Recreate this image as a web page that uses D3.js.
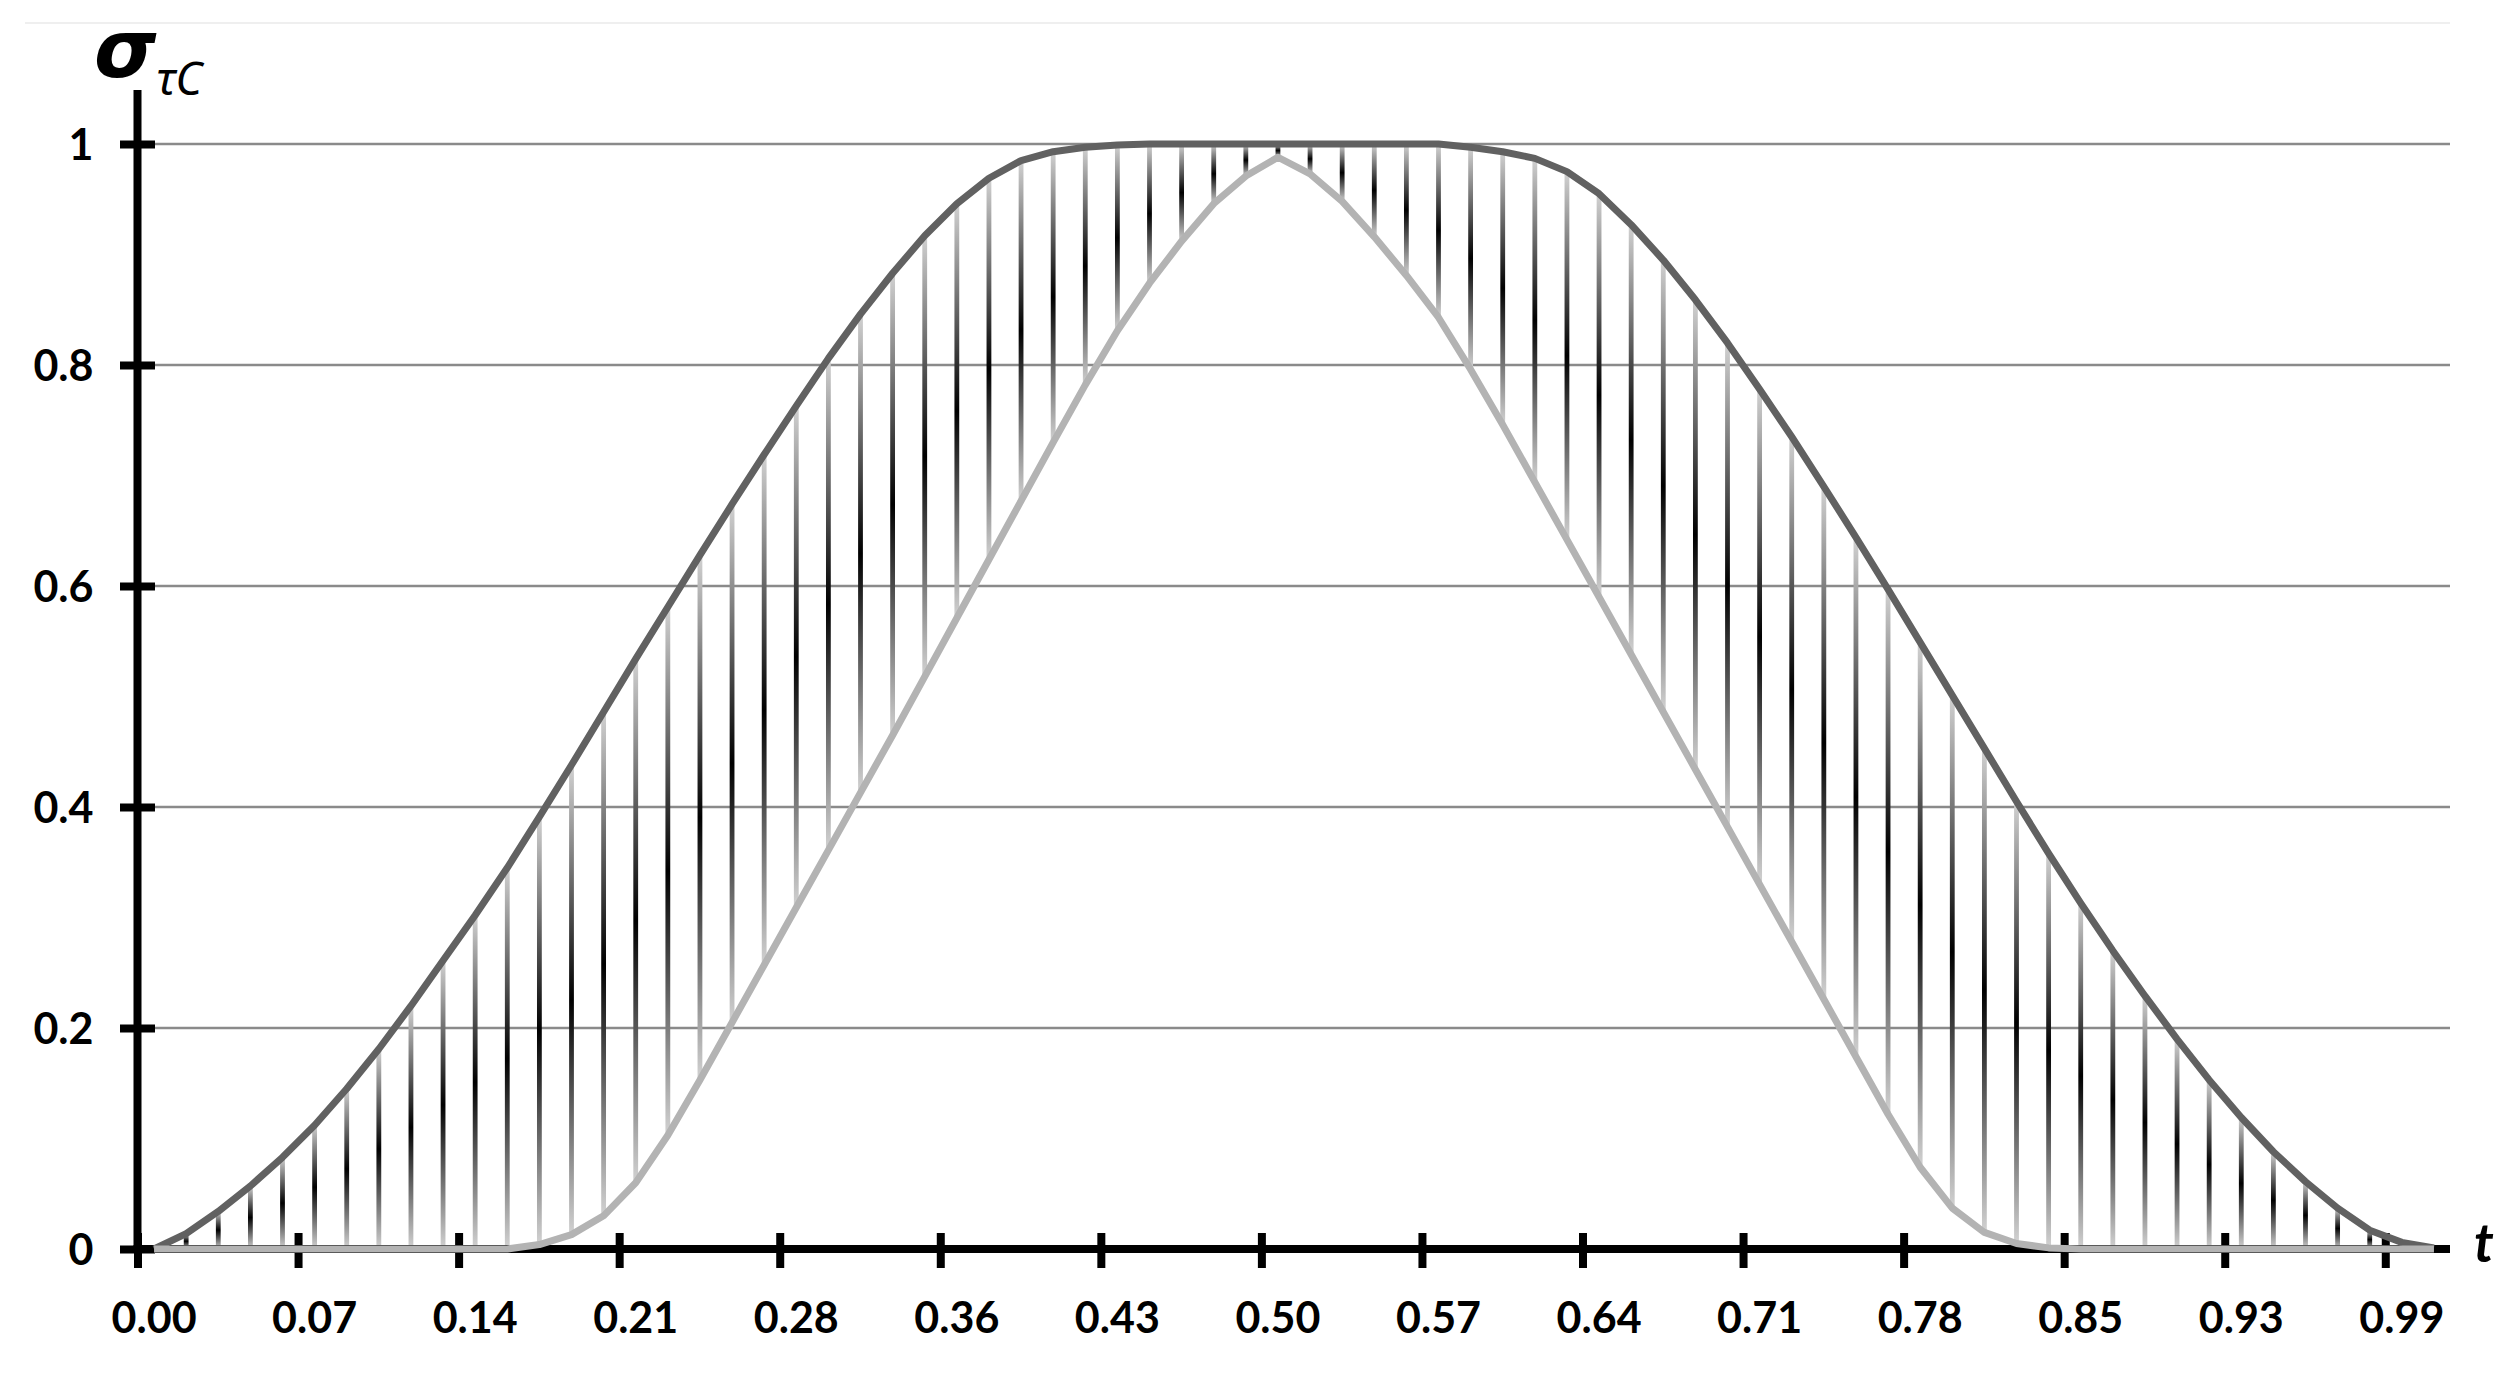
<!DOCTYPE html>
<html><head><meta charset="utf-8">
<script src="https://cdn.jsdelivr.net/npm/d3@7"></script>
<style>html,body{margin:0;padding:0;background:#fff;} svg{display:block;}</style>
</head><body>
<svg id="chart" width="2518" height="1375"></svg>
<script>
// upper series (dark curve), one value per category
const upper = [0, 0.014, 0.034, 0.057, 0.083, 0.112, 0.145, 0.181, 0.220, 0.261,
  0.302, 0.345, 0.391, 0.438, 0.486, 0.534, 0.581, 0.628, 0.674, 0.719,
  0.763, 0.806, 0.846, 0.883, 0.917, 0.946, 0.969, 0.985, 0.993, 0.997,
  0.999, 1, 1, 1, 1, 1, 1, 1, 1, 1,
  1, 0.997, 0.993, 0.987, 0.975, 0.955, 0.927, 0.895, 0.859, 0.820,
  0.778, 0.735, 0.690, 0.644, 0.597, 0.549, 0.501, 0.453, 0.405, 0.358,
  0.313, 0.270, 0.229, 0.190, 0.153, 0.119, 0.088, 0.061, 0.037, 0.017,
  0.006, 0.001];
// lower series (light curve)
const lower = [0, 0, 0, 0, 0, 0, 0, 0, 0, 0,
  0, 0, 0.004, 0.013, 0.030, 0.060, 0.103, 0.153, 0.205, 0.257,
  0.309, 0.361, 0.413, 0.465, 0.518, 0.571, 0.624, 0.677, 0.730, 0.782,
  0.831, 0.874, 0.912, 0.946, 0.971, 0.988, 0.973, 0.948, 0.916, 0.881,
  0.843, 0.796, 0.746, 0.694, 0.642, 0.590, 0.538, 0.486, 0.434, 0.382,
  0.330, 0.278, 0.226, 0.174, 0.122, 0.074, 0.037, 0.015, 0.005, 0.001,
  0, 0, 0, 0, 0, 0, 0, 0, 0, 0,
  0, 0];
// x tick labels, one every tickEvery categories
const xTickLabels = ["0.00","0.07","0.14","0.21","0.28","0.36","0.43","0.50","0.57","0.64","0.71","0.78","0.85","0.93","0.99"];
const tickEvery = 5;
const yTicks = [0, 0.2, 0.4, 0.6, 0.8, 1];
const yTickLabels = ["0","0.2","0.4","0.6","0.8","1"];

const svg = d3.select('#chart');
svg.append('rect').attr('width',2518).attr('height',1375).attr('fill','#fff');

const x = d3.scaleBand().domain(d3.range(upper.length)).range([138, 2450]).padding(0);
const bw = x.bandwidth();
const cx = i => x(i) + bw / 2;
const y = d3.scaleLinear().domain([0, 1]).range([1249, 144]);
const AX = 137.5;

const FONT = 'Lato, "Open Sans", "Noto Sans", sans-serif';

// faint top border
svg.append('line').attr('x1',25).attr('x2',2450).attr('y1',23).attr('y2',23)
  .attr('stroke','#efefef').attr('stroke-width',2);

// gradient for drop lines
const defs = svg.append('defs');
const grad = defs.append('linearGradient').attr('id','dropGrad')
  .attr('x1',0).attr('y1',0).attr('x2',0).attr('y2',1);
grad.append('stop').attr('offset','0%').attr('stop-color','#d2d2d2');
grad.append('stop').attr('offset','50%').attr('stop-color','#000');
grad.append('stop').attr('offset','100%').attr('stop-color','#d2d2d2');

// gridlines
svg.append('g').selectAll('line').data(yTicks.filter(d => d > 0)).join('line')
  .attr('x1', AX).attr('x2', 2450)
  .attr('y1', d => y(d)).attr('y2', d => y(d))
  .attr('stroke', '#8a8a8a').attr('stroke-width', 2.5);

// drop (high-low) lines
const idx = d3.range(upper.length).filter(i => Math.abs(y(lower[i]) - y(upper[i])) > 0.5);
svg.append('g').selectAll('rect').data(idx).join('rect')
  .attr('x', i => cx(i) - 2.4)
  .attr('width', 4.8)
  .attr('y', i => Math.min(y(upper[i]), y(lower[i])))
  .attr('height', i => Math.abs(y(lower[i]) - y(upper[i])))
  .attr('fill', 'url(#dropGrad)');

// Y axis
const yAxis = svg.append('g').attr('transform', `translate(${AX},0)`)
  .call(d3.axisLeft(y).tickValues(yTicks).tickFormat((d, i) => yTickLabels[i]).tickSizeOuter(0));
yAxis.select('.domain').remove();
yAxis.selectAll('.tick line').attr('x1', -17.5).attr('x2', 17.5)
  .attr('stroke', '#000').attr('stroke-width', 8);
yAxis.selectAll('.tick text').attr('x', -44).attr('dy', '0.36em')
  .attr('text-anchor', 'end').attr('font-family', FONT).attr('font-weight', 'bold')
  .attr('font-size', 43).attr('fill', '#000');
svg.append('line').attr('x1', AX).attr('x2', AX).attr('y1', 90).attr('y2', 1253)
  .attr('stroke', '#000').attr('stroke-width', 8);

// X axis
const xTickIdx = d3.range(0, upper.length, tickEvery).slice(0, xTickLabels.length);
const xAxis = svg.append('g').attr('transform', 'translate(0,1249)')
  .call(d3.axisBottom(x).tickValues(xTickIdx)
    .tickFormat((d, i) => xTickLabels[i]).tickSizeOuter(0));
xAxis.select('.domain').remove();
xAxis.selectAll('.tick line').attr('x1', -bw / 2).attr('x2', -bw / 2)
  .attr('y1', -16).attr('y2', 19).attr('stroke', '#000').attr('stroke-width', 8);
xAxis.selectAll('.tick text').attr('y', 84).attr('dy', 0)
  .attr('font-family', FONT).attr('font-weight', 'bold')
  .attr('font-size', 43).attr('fill', '#000');
svg.append('line').attr('x1', AX - 4).attr('x2', 2450).attr('y1', 1249).attr('y2', 1249)
  .attr('stroke', '#000').attr('stroke-width', 8);

// series lines
const line = d3.line().x((d, i) => cx(i)).y(d => y(d));
svg.append('path').datum(upper).attr('d', line).attr('fill', 'none')
  .attr('stroke', '#616161').attr('stroke-width', 7).attr('stroke-linejoin', 'round');
svg.append('path').datum(lower).attr('d', line).attr('fill', 'none')
  .attr('stroke', '#b3b3b3').attr('stroke-width', 7).attr('stroke-linejoin', 'round');

// axis titles
const yTitle = svg.append('text').attr('x', 94).attr('y', 77)
  .attr('font-family', '"DejaVu Sans", "Noto Sans", sans-serif').attr('fill', '#000');
yTitle.append('tspan').attr('font-weight', 'bold').attr('font-style', 'italic')
  .attr('font-size', 80).text('σ');
yTitle.append('tspan').attr('dy', 18).attr('font-family', '"Noto Sans", "DejaVu Sans", sans-serif')
  .attr('font-style', 'italic').attr('font-size', 46).text('τC');
svg.append('text').attr('x', 2474).attr('y', 1262)
  .attr('font-family', FONT).attr('font-weight', 'bold').attr('font-style', 'italic')
  .attr('font-size', 54).attr('fill', '#000').text('t');
</script>
</body></html>
